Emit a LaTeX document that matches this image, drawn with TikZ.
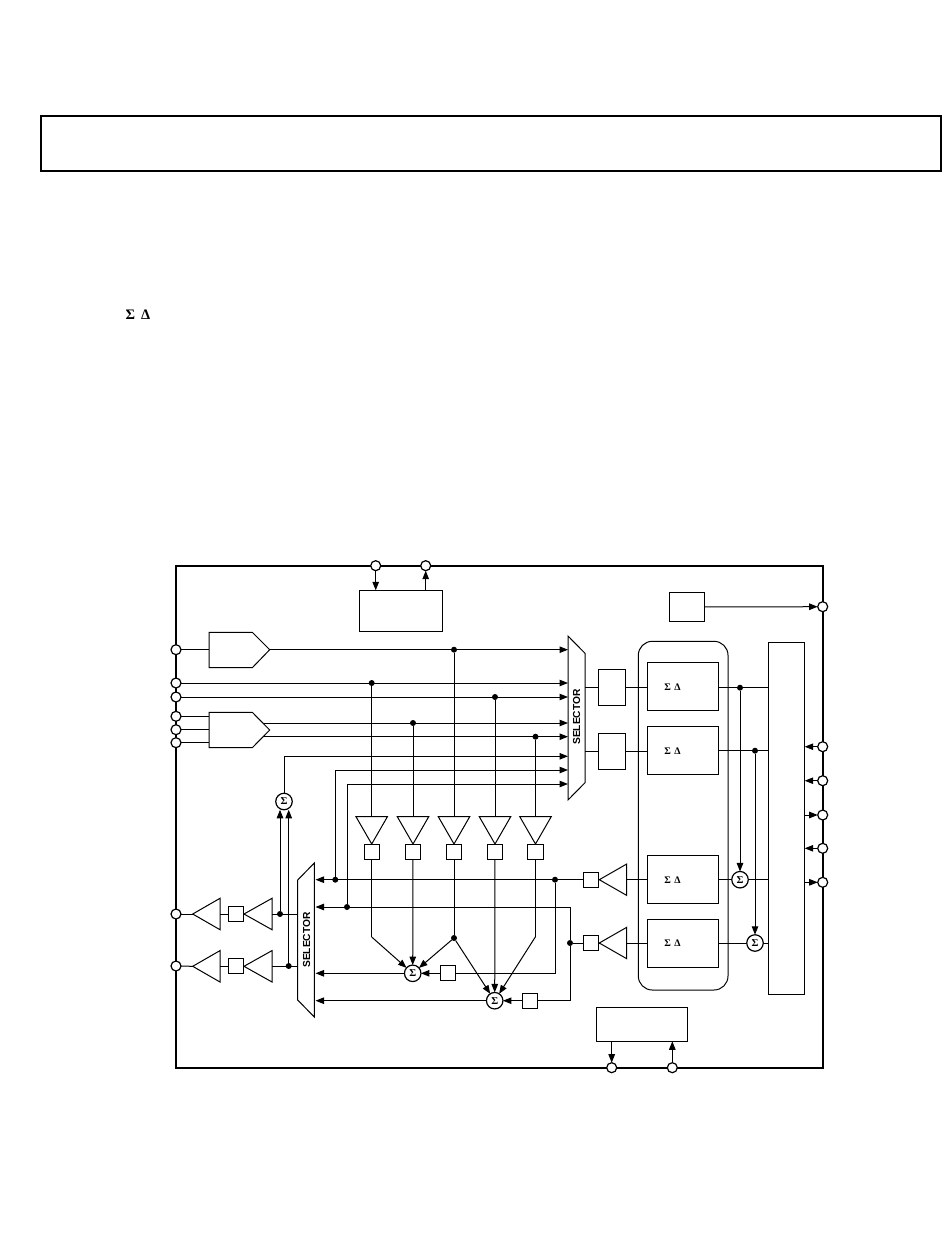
\documentclass[tikz,border=0pt]{standalone}
\usepackage[no-math]{fontspec}
\newfontfamily\selfont{Liberation Sans}
\newfontfamily\grk{Liberation Serif}
\usetikzlibrary{arrows.meta}
\tikzset{
  wire/.style={line width=1pt, line cap=butt},
  arr/.style={wire,-{Triangle[length=8.5pt,width=6.5pt]}},
  frameline/.style={line width=1.8pt},
  box/.style={draw,line width=1pt,fill=white,inner sep=0pt,outer sep=0pt},
  pinc/.style={circle,draw,line width=1.2pt,fill=white,minimum size=10pt,inner sep=0pt,outer sep=0pt},
  dotn/.style={circle,fill=black,minimum size=6pt,inner sep=0pt,outer sep=0pt},
  sumn/.style={circle,draw,line width=1.2pt,fill=white,minimum size=16.5pt,inner sep=0pt,outer sep=0pt,font=\grk\bfseries\fontsize{10.5}{10.5}\selectfont},
  shapeline/.style={line width=1pt,fill=white,line join=miter},
  seltext/.style={font=\selfont\bfseries\fontsize{10.2}{12}\selectfont,rotate=90,inner sep=0pt},
  sdtext/.style={font=\grk\bfseries\fontsize{10}{10}\selectfont,inner sep=0pt}
}
\newcommand{\sdlabel}{Σ\hspace{3.6pt}Δ}
\newcommand{\ampdown}[2]{% x, name
  \coordinate (#2top) at (#1,816.7);
  \coordinate (#2tip) at (#1,844);
  \draw[shapeline] (#1-15.7,816.7) -- (#1+15.7,816.7) -- (#1,844) -- cycle;
}
\newcommand{\ampleft}[4]{% tipx, basex, y, name
  \coordinate (#4tip) at (#1,#3);
  \coordinate (#4base) at (#2,#3);
  \draw[shapeline] (#1,#3) -- (#2,#3-15.7) -- (#2,#3+15.7) -- cycle;
}
\begin{document}
\begin{tikzpicture}[x=1pt,y=-1pt]
\useasboundingbox (0,0) rectangle (950,1260);
\fill[white] (0,0) rectangle (950,1260);
% header box
\node[box,frameline,minimum width=900pt,minimum height=55pt] (header) at (491,143.5) {};
\node[font=\grk\bfseries\fontsize{14.5}{14.5}\selectfont,inner sep=0pt] (sd) at (138,315) {Σ\hspace{6pt}Δ};
% outer frame
\draw[frameline] (176,565.7) rectangle (822.7,1067.7);
% top control box
\node[box,minimum width=83.4pt,minimum height=41pt] (ctrl) at (401,610.8) {};
% references box
\node[box,minimum width=35.4pt,minimum height=29.4pt] (ref) at (687,607) {};
% bottom box
\node[box,minimum width=91.4pt,minimum height=34pt] (bot) at (642,1024.3) {};
% DSP rounded box
\draw[box,rounded corners=14pt] (638.3,641.3) rectangle (728,990);
% digital port box
\node[box,minimum width=36.4pt,minimum height=352pt] (port) at (786.5,818.3) {};
% pins
\node[pinc] (t1) at (375.7,565.7) {};
\node[pinc] (t2) at (425.7,565.7) {};
\node[pinc] (l1) at (176,649.7) {};
\node[pinc] (l2) at (176,683) {};
\node[pinc] (l3) at (176,697) {};
\node[pinc] (l4) at (176,716.3) {};
\node[pinc] (l5) at (176,729.7) {};
\node[pinc] (l6) at (176,742.7) {};
\node[pinc] (o1) at (176,914) {};
\node[pinc] (o2) at (176,966) {};
\node[pinc] (r0) at (822.7,606.7) {};
\node[pinc] (r1) at (822.7,746.7) {};
\node[pinc] (r2) at (822.7,780.7) {};
\node[pinc] (r3) at (822.7,815) {};
\node[pinc] (r4) at (822.7,848.3) {};
\node[pinc] (r5) at (822.7,882.3) {};
\node[pinc] (b1) at (611.7,1067.7) {};
\node[pinc] (b2) at (672.3,1067.7) {};
% edge coordinates
\coordinate (selRin) at (568,0);
\coordinate (selLout) at (315.5,0);
\coordinate (selLin) at (297.7,0);
\coordinate (selRout) at (585,0);
\coordinate (adcin) at (209,0);
\coordinate (adcout2) at (264.3,0);
% ADC pentagons
\draw[shapeline] (209,632.3) -- (252.3,632.3) -- (269.7,649.7) -- (252.3,667.7) -- (209,667.7) -- cycle;
\coordinate (adc1tip) at (269.7,649.7);
\draw[shapeline] (209,712.3) -- (252.3,712.3) -- (269.7,730) -- (252.3,747.7) -- (209,747.7) -- cycle;
% right selector
\draw[shapeline] (568,636) -- (585,653.3) -- (585,782.7) -- (568,800) -- cycle;
\node[seltext] (selA) at (576.7,717) {SELECTOR};
% left selector
\draw[shapeline] (314.3,863) -- (297.7,880) -- (297.7,1000) -- (314.3,1017) -- cycle;
\node[seltext] (selB) at (306.7,940) {SELECTOR};
% small boxes input pga
\node[box,minimum width=27.4pt,minimum height=36pt] (pa) at (612,687.7) {};
\node[box,minimum width=27.4pt,minimum height=36pt] (pb) at (612,751) {};
% converter boxes
\node[box,sdtext,minimum width=71.4pt,minimum height=48pt] (c1) at (683,686.7) {};
\node[box,sdtext,minimum width=71.4pt,minimum height=48pt] (c2) at (683,750.7) {};
\node[box,sdtext,minimum width=71.4pt,minimum height=48pt] (c3) at (683,879.7) {};
\node[box,sdtext,minimum width=71.4pt,minimum height=48pt] (c4) at (683,943) {};
\node[sdtext] (c1t) at (672.5,686.7) {\sdlabel};
\node[sdtext] (c2t) at (672.5,750.7) {\sdlabel};
\node[sdtext] (c3t) at (672.5,879.7) {\sdlabel};
\node[sdtext] (c4t) at (672.5,943.3) {\sdlabel};
% sum nodes
\node[sumn] (s0) at (284,801.5) {Σ};
\node[sumn] (s1) at (412.7,973.3) {Σ};
\node[sumn] (s2) at (494.7,1000.7) {Σ};
\node[sumn] (s3) at (740,879.7) {Σ};
\node[sumn] (s4) at (755,943) {Σ};
% junction dots
\node[dotn] (d1) at (454,649.7) {};
\node[dotn] (d2) at (371.7,683) {};
\node[dotn] (d3) at (495,697) {};
\node[dotn] (d4) at (413,723) {};
\node[dotn] (d5) at (535.5,736.7) {};
\node[dotn] (d6) at (740,687.7) {};
\node[dotn] (d7) at (755,750.7) {};
\node[dotn] (d8) at (335.3,879.7) {};
\node[dotn] (d9) at (555,879.7) {};
\node[dotn] (d10) at (347,907) {};
\node[dotn] (d11) at (570,943) {};
\node[dotn] (d12) at (280,914) {};
\node[dotn] (d13) at (288.7,966) {};
\node[dotn] (d14) at (454,938) {};
% volume amps (down)
\ampdown{371.7}{a1}
\ampdown{413}{a2}
\ampdown{454}{a3}
\ampdown{495}{a4}
\ampdown{535.5}{a5}
\node[box,minimum size=15.3pt] (g1) at (371.7,852) {};
\node[box,minimum size=15.3pt] (g2) at (413,852) {};
\node[box,minimum size=15.3pt] (g3) at (454,852) {};
\node[box,minimum size=15.3pt] (g4) at (495,852) {};
\node[box,minimum size=15.3pt] (g5) at (535.5,852) {};
% output amps
\ampleft{599.3}{626.7}{879.7}{m1}
\ampleft{599.3}{626.7}{943}{m2}
\node[box,minimum size=15.3pt] (mg1) at (591,879.7) {};
\node[box,minimum size=15.3pt] (mg2) at (591,943) {};
\ampleft{192.7}{220}{914}{h1}
\ampleft{192.7}{220}{966.3}{h2}
\ampleft{244}{272}{914}{h3}
\ampleft{244}{272}{966.3}{h4}
\node[box,minimum size=15.3pt] (hg1) at (236,914) {};
\node[box,minimum size=15.3pt] (hg2) at (236,966.3) {};
% feed boxes into summers
\node[box,minimum size=15.3pt] (f1) at (448.3,973.3) {};
\node[box,minimum size=15.3pt] (f2) at (530,1000.7) {};
% connectors: top pins
\draw[arr] (t1) -- (t1 |- ctrl.north);
\draw[arr] (t2 |- ctrl.north) -- (t2);
% left inputs
\draw[wire] (l1) -- (l1 -| adcin);
\draw[arr] (adc1tip) -- (adc1tip -| selRin);
\draw[arr] (l2) -- (l2 -| selRin);
\draw[arr] (l3) -- (l3 -| selRin);
\draw[wire] (l4) -- (l4 -| adcin);
\draw[wire] (l5) -- (l5 -| adcin);
\draw[wire] (l6) -- (l6 -| adcin);
\draw[arr] (d4 -| adcout2) -- (d4 -| selRin);
\draw[arr] (d5 -| adcout2) -- (d5 -| selRin);
\draw[arr] (s0) |- (568,756.3);
\draw[arr] (d8) |- (568,770);
\draw[arr] (d10) |- (568,784);
% verticals to amps
\draw[wire] (d1) -- (a3top);
\draw[wire] (d2) -- (a1top);
\draw[wire] (d3) -- (a4top);
\draw[wire] (d4) -- (a2top);
\draw[wire] (d5) -- (a5top);
% amps below
\coordinate (k1) at (371.7,937);
\coordinate (k5) at (535.5,936.7);
\draw[wire] (g1) -- (k1);
\draw[arr] (k1) -- (s1);
\draw[arr] (g2) -- (s1);
\draw[wire] (g3) -- (d14);
\draw[arr] (d14) -- (s1);
\draw[arr] (d14) -- (s2);
\draw[arr] (g4) -- (s2);
\draw[wire] (g5) -- (k5);
\draw[arr] (k5) -- (s2);
% selector A to converters
\draw[wire] (pa -| selRout) -- (pa);
\draw[wire] (pb -| selRout) -- (pb);
\draw[wire] (pa) -- (pa -| c1.west);
\draw[wire] (pb) -- (pb -| c2.west);
\draw[wire] (d6 -| c1.east) -- (d6);
\draw[wire] (d6) -- (d6 -| port.west);
\draw[wire] (c2) -- (d7);
\draw[wire] (d7) -- (d7 -| port.west);
\draw[arr] (d6) -- (s3);
\draw[arr] (d7) -- (s4);
\draw[wire] (c3) -- (s3);
\draw[wire] (s3) -- (s3 -| port.west);
\draw[wire] (c4) -- (s4);
\draw[wire] (s4) -- (s4 -| port.west);
\draw[wire] (c3.west) -- (m1base);
\draw[wire] (c4.west) -- (m2base);
\draw[wire] (m1tip) -- (mg1);
\draw[wire] (m2tip) -- (mg2);
\draw[arr] (mg1) -- (mg1 -| selLout);
\draw[wire] (d9) |- (f1);
\draw[arr] (f1) -- (s1);
\draw[arr] (s1) -- (s1 -| selLout);
\draw[arr] (d11 |- d10) -- (d10 -| selLout);
\draw[wire] (d11 |- d10) -- (d11) -- (mg2);
\draw[wire] (d11) |- (f2);
\draw[arr] (f2) -- (s2);
\draw[arr] (s2) -- (s2 -| selLout);
% left outputs
\draw[wire] (o1) -- (h1tip);
\draw[wire] (o2) -- (h2tip);
\draw[wire] (h1base) -- (hg1);
\draw[wire] (h2base) -- (hg2);
\draw[wire] (hg1) -- (h3tip);
\draw[wire] (hg2) -- (h4tip);
\draw[wire] (h3base) -- (h3base -| selLin);
\draw[wire] (h4base) -- (h4base -| selLin);
\draw[arr] (d12) -- (d12 |- s0.south);
\draw[arr] (d13) -- (d13 |- s0.south);
% ref
\draw[arr] (ref) -- (r0);
% right pins
\draw[arr] (r1) -- (r1 -| port.east);
\draw[arr] (r2) -- (r2 -| port.east);
\draw[arr] (r3 -| port.east) -- (r3);
\draw[arr] (r4) -- (r4 -| port.east);
\draw[arr] (r5 -| port.east) -- (r5);
% bottom
\draw[arr] (bot.south -| b1) -- (b1);
\draw[arr] (b2) -- (bot.south -| b2);
\end{tikzpicture}
\end{document}
